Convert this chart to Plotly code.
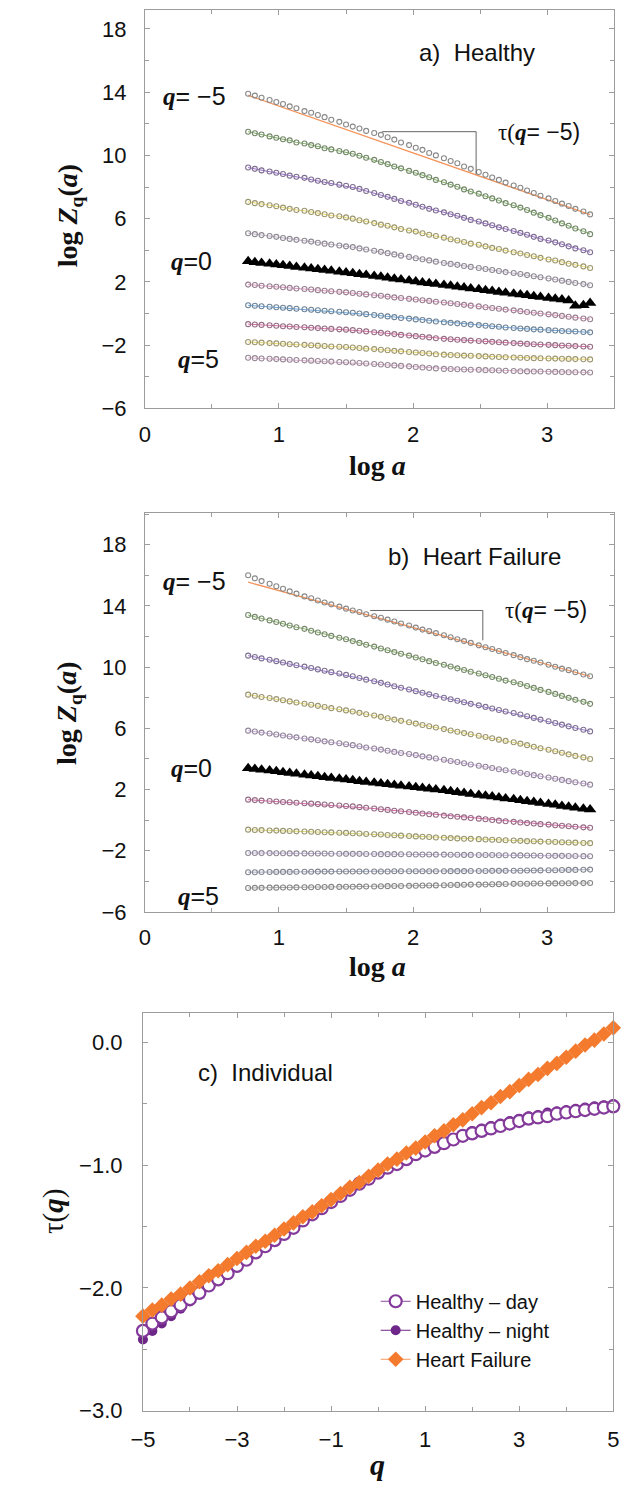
import plotly.graph_objects as go

W, H = 628, 1497
SANS = "Liberation Sans, Arial, sans-serif"
SERIF = "Liberation Serif, Times New Roman, serif"

# ---------------- data: panels a) and b) ----------------
log_a = [0.77, 0.82, 0.87, 0.93, 0.98, 1.03, 1.08, 1.13, 1.19, 1.24, 1.29, 1.34, 1.39, 1.45, 1.50,
         1.55, 1.60, 1.65, 1.71, 1.76, 1.81, 1.86, 1.91, 1.97, 2.02, 2.07, 2.12, 2.17, 2.23, 2.28,
         2.33, 2.38, 2.43, 2.49, 2.54, 2.59, 2.64, 2.69, 2.75, 2.80, 2.85, 2.90, 2.95, 3.01, 3.06,
         3.11, 3.16, 3.21, 3.27, 3.32]
q_rows = [-5, -4, -3, -2, -1, 0, 1, 2, 3, 4, 5]

# a) Healthy
za_m5 = [13.90, 13.78, 13.65, 13.50, 13.38, 13.25, 13.10, 12.98, 12.80, 12.70, 12.55, 12.42, 12.25, 12.12, 11.95,
         11.82, 11.70, 11.55, 11.42, 11.30, 11.15, 11.00, 10.82, 10.65, 10.48, 10.35, 10.15, 10.00, 9.82, 9.65,
         9.50, 9.30, 9.15, 8.95, 8.78, 8.60, 8.45, 8.28, 8.10, 7.95, 7.78, 7.62, 7.45, 7.28, 7.12,
         6.95, 6.80, 6.62, 6.45, 6.27]
za_m4 = [11.50, 11.40, 11.32, 11.20, 11.12, 11.02, 10.95, 10.82, 10.75, 10.65, 10.58, 10.45, 10.38, 10.28, 10.20, 10.10,
         9.98, 9.85, 9.72, 9.58, 9.45, 9.30, 9.18, 9.02, 8.90, 8.75, 8.62, 8.45, 8.30,
         8.15, 8.02, 7.85, 7.72, 7.58, 7.42, 7.28, 7.15, 6.98, 6.85, 6.70,
         6.55, 6.38, 6.22, 6.05, 5.88, 5.70, 5.55, 5.38, 5.20, 5.02]
za_m3 = [9.23, 9.15, 9.05, 8.98, 8.90, 8.82, 8.72, 8.65, 8.58, 8.48, 8.40, 8.32, 8.25, 8.15, 8.08, 8.00,
         7.88, 7.75, 7.62, 7.50, 7.38, 7.25, 7.12, 7.00, 6.88, 6.75, 6.62, 6.52, 6.40,
         6.28, 6.18, 6.05, 5.92, 5.82, 5.70, 5.58, 5.45, 5.35, 5.22, 5.10,
         4.98, 4.85, 4.72, 4.62, 4.50, 4.38, 4.25, 4.12, 4.00, 3.88]
za_m2 = [7.06, 6.98, 6.92, 6.85, 6.78, 6.70, 6.62, 6.55, 6.50, 6.42, 6.35, 6.28, 6.20, 6.15, 6.08, 6.00,
         5.90, 5.82, 5.72, 5.62, 5.55, 5.45, 5.35, 5.25, 5.18, 5.08, 4.98, 4.90, 4.80,
         4.70, 4.62, 4.52, 4.42, 4.35, 4.25, 4.15, 4.08, 3.98, 3.88, 3.80,
         3.70, 3.62, 3.52, 3.42, 3.35, 3.25, 3.15, 3.08, 2.98, 2.88]
za_m1 = [5.08, 5.02, 4.96, 4.90, 4.85, 4.78, 4.72, 4.66, 4.60, 4.55, 4.48, 4.42, 4.37, 4.30, 4.25, 4.20,
         4.12, 4.05, 3.97, 3.90, 3.82, 3.74, 3.66, 3.58, 3.50, 3.43, 3.36, 3.28, 3.20,
         3.14, 3.08, 3.01, 2.95, 2.88, 2.82, 2.75, 2.69, 2.62, 2.56, 2.50,
         2.43, 2.36, 2.29, 2.22, 2.15, 2.08, 2.00, 1.93, 1.86, 1.79]
za_0 = [3.30, 3.25, 3.20, 3.15, 3.10, 3.05, 3.00, 2.95, 2.90, 2.85, 2.80, 2.75, 2.70, 2.65, 2.60, 2.55,
        2.49, 2.43, 2.38, 2.32, 2.26, 2.20, 2.15, 2.09, 2.03, 1.97, 1.92, 1.86, 1.80,
        1.75, 1.69, 1.64, 1.58, 1.53, 1.47, 1.42, 1.36, 1.31, 1.25, 1.20,
        1.15, 1.09, 1.04, 0.98, 0.93, 0.88, 0.82, 0.50, 0.52, 0.66]
za_p1 = [1.83, 1.80, 1.76, 1.73, 1.69, 1.66, 1.62, 1.58, 1.55, 1.52, 1.48, 1.44, 1.41, 1.37, 1.34, 1.30,
         1.25, 1.21, 1.16, 1.12, 1.07, 1.02, 0.98, 0.93, 0.89, 0.84, 0.80, 0.75, 0.70,
         0.65, 0.60, 0.55, 0.50, 0.45, 0.40, 0.35, 0.30, 0.25, 0.20, 0.15,
         0.10, 0.05, 0.00, -0.05, -0.10, -0.15, -0.20, -0.26, -0.31, -0.36]
za_p2 = [0.52, 0.49, 0.46, 0.43, 0.40, 0.37, 0.34, 0.30, 0.27, 0.24, 0.21, 0.18, 0.14, 0.11, 0.08, 0.05,
         0.00, -0.04, -0.09, -0.14, -0.18, -0.23, -0.28, -0.32, -0.37, -0.41, -0.46, -0.50, -0.55,
         -0.59, -0.62, -0.66, -0.70, -0.73, -0.77, -0.80, -0.84, -0.88, -0.91, -0.95,
         -0.97, -1.00, -1.02, -1.05, -1.07, -1.10, -1.12, -1.14, -1.17, -1.19]
za_p3 = [-0.67, -0.69, -0.72, -0.74, -0.77, -0.80, -0.82, -0.85, -0.87, -0.90, -0.92, -0.95, -0.97, -1.00, -1.02, -1.05,
         -1.09, -1.13, -1.18, -1.22, -1.26, -1.30, -1.35, -1.39, -1.43, -1.47, -1.51, -1.56, -1.60,
         -1.63, -1.66, -1.68, -1.71, -1.74, -1.76, -1.79, -1.82, -1.84, -1.87, -1.90,
         -1.92, -1.94, -1.96, -1.98, -2.00, -2.02, -2.04, -2.06, -2.08, -2.10]
za_p4 = [-1.80, -1.82, -1.84, -1.87, -1.89, -1.91, -1.94, -1.96, -1.98, -2.01, -2.03, -2.05, -2.08, -2.10, -2.12, -2.15,
         -2.18, -2.22, -2.25, -2.29, -2.32, -2.36, -2.39, -2.43, -2.46, -2.50, -2.53, -2.57, -2.60,
         -2.62, -2.64, -2.66, -2.67, -2.69, -2.71, -2.73, -2.75, -2.76, -2.78, -2.80,
         -2.81, -2.82, -2.83, -2.84, -2.85, -2.86, -2.87, -2.88, -2.89, -2.90]
za_p5 = [-2.80, -2.82, -2.84, -2.86, -2.88, -2.90, -2.92, -2.94, -2.96, -2.98, -3.00, -3.02, -3.04, -3.06, -3.08, -3.10,
         -3.13, -3.16, -3.19, -3.22, -3.25, -3.28, -3.31, -3.34, -3.38, -3.41, -3.44, -3.47, -3.50,
         -3.51, -3.52, -3.54, -3.55, -3.56, -3.58, -3.59, -3.60, -3.62, -3.63, -3.65,
         -3.66, -3.67, -3.67, -3.68, -3.69, -3.70, -3.71, -3.71, -3.72, -3.73]

# b) Heart Failure
zb_m5 = [16.00, 15.80, 15.62, 15.45, 15.28, 15.12, 14.95, 14.80, 14.62, 14.50, 14.35, 14.22, 14.10, 13.95, 13.82,
         13.70, 13.60, 13.45, 13.32, 13.22, 13.10, 12.98, 12.85, 12.72, 12.58, 12.45, 12.35, 12.22, 12.08, 11.95,
         11.82, 11.70, 11.58, 11.42, 11.30, 11.18, 11.05, 10.92, 10.78, 10.65, 10.52, 10.42, 10.30, 10.15, 10.02,
         9.90, 9.80, 9.66, 9.52, 9.40]
zb_m4 = [13.40, 13.28, 13.18, 13.05, 12.95, 12.83, 12.72, 12.60, 12.50, 12.38, 12.26, 12.15, 12.04, 11.92, 11.82, 11.70,
         11.58, 11.46, 11.34, 11.22, 11.10, 10.98, 10.87, 10.75, 10.63, 10.51, 10.39, 10.27, 10.15,
         10.04, 9.92, 9.81, 9.70, 9.58, 9.47, 9.35, 9.24, 9.12, 9.01, 8.90,
         8.77, 8.64, 8.51, 8.38, 8.25, 8.12, 7.99, 7.86, 7.73, 7.60]
zb_m3 = [10.75, 10.66, 10.57, 10.48, 10.39, 10.30, 10.21, 10.12, 10.03, 9.94, 9.85, 9.76, 9.67, 9.58, 9.49, 9.40,
         9.29, 9.18, 9.08, 8.97, 8.86, 8.75, 8.65, 8.54, 8.43, 8.32, 8.22, 8.11, 8.00,
         7.90, 7.80, 7.70, 7.60, 7.50, 7.40, 7.30, 7.20, 7.10, 7.00, 6.90,
         6.79, 6.68, 6.57, 6.46, 6.35, 6.24, 6.13, 6.02, 5.91, 5.80]
zb_m2 = [8.20, 8.13, 8.05, 7.98, 7.91, 7.83, 7.76, 7.69, 7.61, 7.54, 7.47, 7.39, 7.32, 7.25, 7.17, 7.10,
         7.01, 6.92, 6.84, 6.75, 6.66, 6.57, 6.49, 6.40, 6.31, 6.22, 6.14, 6.05, 5.95,
         5.86, 5.78, 5.69, 5.61, 5.52, 5.43, 5.35, 5.26, 5.18, 5.09, 5.00,
         4.90, 4.80, 4.70, 4.60, 4.50, 4.40, 4.30, 4.20, 4.10, 4.00]
zb_m1 = [5.85, 5.79, 5.72, 5.66, 5.60, 5.53, 5.47, 5.41, 5.34, 5.28, 5.22, 5.15, 5.09, 5.03, 4.96, 4.90,
         4.83, 4.75, 4.68, 4.61, 4.54, 4.46, 4.39, 4.32, 4.25, 4.17, 4.10, 4.03, 3.95,
         3.87, 3.80, 3.72, 3.64, 3.56, 3.49, 3.41, 3.33, 3.26, 3.18, 3.10,
         3.02, 2.94, 2.87, 2.79, 2.71, 2.63, 2.55, 2.48, 2.40, 2.32]
zb_0 = [3.40, 3.35, 3.29, 3.24, 3.19, 3.13, 3.08, 3.03, 2.97, 2.92, 2.87, 2.81, 2.76, 2.71, 2.65, 2.60,
        2.55, 2.50, 2.45, 2.40, 2.35, 2.30, 2.25, 2.20, 2.15, 2.10, 2.05, 2.00, 1.95,
        1.89, 1.83, 1.77, 1.71, 1.65, 1.60, 1.54, 1.48, 1.42, 1.36, 1.30,
        1.24, 1.18, 1.12, 1.06, 1.00, 0.93, 0.87, 0.81, 0.75, 0.69]
zb_p1 = [1.34, 1.31, 1.28, 1.25, 1.22, 1.19, 1.17, 1.14, 1.11, 1.08, 1.05, 1.02, 0.99, 0.96, 0.93, 0.90,
         0.85, 0.81, 0.76, 0.71, 0.67, 0.62, 0.58, 0.53, 0.48, 0.44, 0.39, 0.35, 0.30,
         0.26, 0.22, 0.18, 0.14, 0.10, 0.06, 0.01, -0.03, -0.07, -0.11, -0.15,
         -0.19, -0.22, -0.26, -0.29, -0.33, -0.36, -0.40, -0.43, -0.47, -0.50]
zb_p2 = [-0.62, -0.64, -0.65, -0.67, -0.68, -0.70, -0.71, -0.73, -0.74, -0.76, -0.77, -0.79, -0.80, -0.82, -0.83, -0.85,
         -0.87, -0.90, -0.92, -0.94, -0.97, -0.99, -1.01, -1.03, -1.06, -1.08, -1.10, -1.13, -1.15,
         -1.17, -1.19, -1.21, -1.22, -1.24, -1.26, -1.28, -1.30, -1.31, -1.33, -1.35,
         -1.37, -1.38, -1.40, -1.41, -1.43, -1.44, -1.46, -1.47, -1.49, -1.50]
zb_p3 = [-2.14, -2.14, -2.15, -2.15, -2.16, -2.16, -2.17, -2.17, -2.17, -2.18, -2.18, -2.18, -2.19, -2.19, -2.20, -2.20,
         -2.20, -2.21, -2.21, -2.22, -2.22, -2.22, -2.23, -2.23, -2.24, -2.24, -2.24, -2.25, -2.25,
         -2.26, -2.26, -2.27, -2.27, -2.28, -2.28, -2.28, -2.29, -2.29, -2.30, -2.30,
         -2.31, -2.31, -2.32, -2.32, -2.33, -2.33, -2.34, -2.34, -2.35, -2.36]
zb_p4 = [-3.40, -3.40, -3.39, -3.39, -3.38, -3.38, -3.38, -3.37, -3.37, -3.37, -3.36, -3.36, -3.36, -3.35, -3.35, -3.35,
         -3.35, -3.35, -3.35, -3.35, -3.35, -3.34, -3.34, -3.34, -3.34, -3.34, -3.34, -3.34, -3.34,
         -3.33, -3.33, -3.33, -3.32, -3.32, -3.32, -3.31, -3.31, -3.31, -3.30, -3.30,
         -3.29, -3.29, -3.28, -3.27, -3.27, -3.26, -3.25, -3.25, -3.24, -3.23]
zb_p5 = [-4.43, -4.42, -4.42, -4.41, -4.41, -4.40, -4.40, -4.39, -4.38, -4.38, -4.37, -4.37, -4.36, -4.36, -4.35, -4.35,
         -4.34, -4.33, -4.33, -4.32, -4.31, -4.30, -4.30, -4.29, -4.28, -4.27, -4.27, -4.26, -4.25,
         -4.24, -4.23, -4.22, -4.21, -4.21, -4.20, -4.19, -4.18, -4.17, -4.16, -4.15,
         -4.15, -4.14, -4.14, -4.13, -4.13, -4.12, -4.12, -4.11, -4.11, -4.10]

# fitted slope lines for q = -5
fit_x = [0.77, 3.32]
fit_a_y = [13.80, 6.25]
fit_b_y = [15.55, 9.40]
# slope brackets  (x_left, x_right, y_top, y_bottom)
bracket_a = [1.77, 2.47, 11.5, 8.8]
bracket_b = [1.68, 2.52, 13.7, 11.75]

# ---------------- data: panel c) ----------------
q_vals = [-5.0, -4.8, -4.6, -4.4, -4.2, -4.0, -3.8, -3.6, -3.4, -3.2, -3.0, -2.8, -2.6, -2.4, -2.2, -2.0,
          -1.8, -1.6, -1.4, -1.2, -1.0, -0.8, -0.6, -0.4, -0.2, 0.0, 0.2, 0.4, 0.6, 0.8, 1.0, 1.2, 1.4,
          1.6, 1.8, 2.0, 2.2, 2.4, 2.6, 2.8, 3.0, 3.2, 3.4, 3.6, 3.8, 4.0, 4.2, 4.4, 4.6, 4.8, 5.0]
tau_day = [-2.35, -2.29, -2.24, -2.19, -2.14, -2.09, -2.04, -1.98, -1.93, -1.88, -1.82, -1.77, -1.71, -1.66, -1.61,
           -1.56, -1.51, -1.45, -1.40, -1.35, -1.30, -1.25, -1.20, -1.15, -1.11, -1.06, -1.02, -0.99, -0.95,
           -0.91, -0.88, -0.85, -0.82, -0.79, -0.76, -0.74, -0.72, -0.70, -0.68, -0.66, -0.64, -0.62, -0.61,
           -0.60, -0.58, -0.57, -0.56, -0.55, -0.54, -0.53, -0.52]
tau_night = [-2.42, -2.35, -2.29, -2.23, -2.17, -2.11, -2.05, -1.99, -1.94, -1.88, -1.83, -1.77, -1.72, -1.67, -1.62,
             -1.57, -1.52, -1.46, -1.41, -1.35, -1.30, -1.25, -1.20, -1.15, -1.10, -1.06, -1.02, -0.98, -0.94,
             -0.90, -0.87, -0.84, -0.81, -0.78, -0.75, -0.72, -0.70, -0.68, -0.66, -0.64, -0.62, -0.60, -0.59,
             -0.57, -0.56, -0.55, -0.54, -0.53, -0.52, -0.51, -0.50]
tau_hf = [-2.23, -2.18, -2.14, -2.09, -2.05, -2.00, -1.95, -1.90, -1.86, -1.81, -1.76, -1.71, -1.66, -1.62, -1.57,
          -1.52, -1.47, -1.42, -1.38, -1.33, -1.28, -1.23, -1.18, -1.14, -1.09, -1.04, -0.99, -0.95, -0.90,
          -0.86, -0.81, -0.76, -0.72, -0.67, -0.63, -0.58, -0.53, -0.49, -0.44, -0.40, -0.35, -0.30, -0.26,
          -0.21, -0.17, -0.12, -0.07, -0.02, 0.02, 0.07, 0.12]

# ---------------- styles ----------------
rows_a = [za_m5, za_m4, za_m3, za_m2, za_m1, za_0, za_p1, za_p2, za_p3, za_p4, za_p5]
rows_b = [zb_m5, zb_m4, zb_m3, zb_m2, zb_m1, zb_0, zb_p1, zb_p2, zb_p3, zb_p4, zb_p5]
colors_a = ["#f39a66", "#6fa552", "#8a5cc4", "#e4d35c", "#b7a9c4", "#000000",
            "#d98cbc", "#5c9bd6", "#d35c9c", "#e6d25e", "#d9a6cc"]
colors_b = ["#f39a66", "#78a85a", "#8c68c8", "#e0d062", "#c4a2da", "#000000",
            "#d0559c", "#d8cf5e", "#b9a8d2", "#98a0bc", "#a2a2a2"]


def blend(c, g=(120, 120, 120), t=0.35):
    r, gg, b = int(c[1:3], 16), int(c[3:5], 16), int(c[5:7], 16)
    return "rgb(%d,%d,%d)" % (r * t + g[0] * (1 - t), gg * t + g[1] * (1 - t), b * t + g[2] * (1 - t))


fig = go.Figure()


def add_panel(rows, colors, fit_y, xa, ya):
    fig.add_trace(go.Scatter(x=fit_x, y=fit_y, mode="lines", line=dict(color="#f4935a", width=1.3),
                             xaxis=xa, yaxis=ya, showlegend=False, hoverinfo="skip"))
    for q, ys, c in zip(q_rows, rows, colors):
        if q == 0:
            fig.add_trace(go.Scatter(x=log_a, y=ys, mode="markers",
                                     marker=dict(symbol="triangle-up", size=11, color="black"),
                                     xaxis=xa, yaxis=ya, showlegend=False))
        else:
            mode = "markers" if q == -5 else "lines+markers"
            mc = blend("#aaaaaa") if q == -5 else blend(c)
            fig.add_trace(go.Scatter(x=log_a, y=ys, mode=mode,
                                     line=dict(color=c, width=0.9),
                                     marker=dict(symbol="circle-open", size=5, color=mc,
                                                 line=dict(width=1.1)),
                                     xaxis=xa, yaxis=ya, showlegend=False))


add_panel(rows_a, colors_a, fit_a_y, "x", "y")
add_panel(rows_b, colors_b, fit_b_y, "x2", "y2")

PURPLE = "#6e2688"
ORANGE = "#f47a2e"
fig.add_trace(go.Scatter(x=q_vals, y=tau_night, mode="lines+markers", name="Healthy \u2013 night",
                         line=dict(color=PURPLE, width=1), marker=dict(symbol="circle", size=10, color=PURPLE),
                         xaxis="x3", yaxis="y3", legendrank=2, cliponaxis=False))
fig.add_trace(go.Scatter(x=q_vals, y=tau_day, mode="lines+markers", name="Healthy \u2013 day",
                         line=dict(color="#8a4aa0", width=1),
                         marker=dict(symbol="circle", size=12, color="white", line=dict(color="#843a9a", width=2.2)),
                         xaxis="x3", yaxis="y3", legendrank=1, cliponaxis=False))
fig.add_trace(go.Scatter(x=q_vals, y=tau_hf, mode="lines+markers", name="Heart Failure",
                         line=dict(color="#f79a5e", width=1), marker=dict(symbol="diamond", size=12, color=ORANGE),
                         xaxis="x3", yaxis="y3", legendrank=3, cliponaxis=False))

# ---------------- layout ----------------
def px_x(p):
    return p / W


def px_y(p):
    return 1 - p / H


AXC = "#9c9c9c"


def axis(rng, dom, tick0, dtick, mdtick, fmt=None, anchor=None, standoff=8):
    d = dict(range=rng, domain=dom, showline=True, linecolor=AXC, linewidth=1, mirror="ticks",
             ticks="inside", ticklen=5, tickcolor=AXC, tickwidth=1, showgrid=False, zeroline=False,
             tick0=tick0, dtick=dtick, tickfont=dict(family=SANS, size=22, color="#111"),
             ticklabelstandoff=standoff,
             minor=dict(ticks="inside", ticklen=4, tickcolor=AXC, dtick=mdtick, tick0=tick0, showgrid=False),
             fixedrange=True, anchor=anchor)
    if fmt:
        d["tickformat"] = fmt
    return d


xdom_ab = [px_x(136), px_x(620)]
fig.update_layout(
    width=W, height=H, margin=dict(l=0, r=0, t=0, b=0),
    paper_bgcolor="white", plot_bgcolor="white",
    xaxis=axis([0, 3.5], xdom_ab, 0, 1, 0.5, anchor="y", standoff=6),
    yaxis=axis([-6, 19.2], [px_y(412), px_y(10)], -6, 4, 2, anchor="x", standoff=13),
    xaxis2=axis([0, 3.5], xdom_ab, 0, 1, 0.5, anchor="y2", standoff=6),
    yaxis2=axis([-6, 20.1], [px_y(920), px_y(517)], -6, 4, 2, anchor="x2", standoff=13),
    xaxis3=axis([-5, 5], [px_x(134), px_x(619)], -5, 2, 1, anchor="y3", standoff=9),
    yaxis3=axis([-3, 0.24], [px_y(1423), px_y(1022)], -3, 1, 0.5, fmt=".1f", anchor="x3", standoff=15),
    legend=dict(x=px_x(374), y=px_y(1293), xanchor="left", yanchor="top", bgcolor="rgba(0,0,0,0)",
                font=dict(family=SANS, size=20, color="#111"), tracegroupgap=0),
    showlegend=True,
)

for b, xr, yr in [(bracket_a, "x", "y"), (bracket_b, "x2", "y2")]:
    fig.add_shape(type="line", xref=xr, yref=yr, x0=b[0], x1=b[1], y0=b[2], y1=b[2],
                  line=dict(color="#666", width=1))
    fig.add_shape(type="line", xref=xr, yref=yr, x0=b[1], x1=b[1], y0=b[2], y1=b[3],
                  line=dict(color="#666", width=1))

QB = "<span style=\"font-family:'Liberation Serif'\"><b><i>q</i></b></span>"
TAU = "<span style=\"font-family:'Liberation Serif'\">\u03c4(</span>" + QB + "= \u22125)"


def ann(text, x, y, xref, yref, size, family=SANS, angle=0):
    fig.add_annotation(text=text, x=x, y=y, xref=xref, yref=yref, showarrow=False,
                       font=dict(family=family, size=size, color="#111"), textangle=angle,
                       xanchor="center", yanchor="middle")


# panel a
ann("a)  Healthy", 2.48, 16.5, "x", "y", 24)
ann(QB + "= \u22125", 0.37, 13.75, "x", "y", 25)
ann(QB + "=0", 0.35, 3.3, "x", "y", 25)
ann(QB + "=5", 0.40, -2.9, "x", "y", 25)
ann(TAU, 2.94, 11.5, "x", "y", 23)
# panel b
ann("b)  Heart Failure", 2.46, 17.2, "x2", "y2", 24)
ann(QB + "= \u22125", 0.37, 15.6, "x2", "y2", 25)
ann(QB + "=0", 0.35, 3.4, "x2", "y2", 25)
ann(QB + "=5", 0.40, -4.95, "x2", "y2", 25)
ann(TAU, 2.99, 13.7, "x2", "y2", 23)
# panel c
ann("c)  Individual", -2.4, -0.245, "x3", "y3", 24)

# axis titles
YT = "<b>log <i>Z</i><sub>q</sub>(<i>a</i>)</b>"
XT = "<b>log <i>a</i></b>"
ann(YT, px_x(58), px_y(218), "paper", "paper", 28, SERIF, -90)
ann(XT, px_x(376), px_y(470), "paper", "paper", 28, SERIF)
ann(YT, px_x(58), px_y(720), "paper", "paper", 28, SERIF, -90)
ann(XT, px_x(376), px_y(975), "paper", "paper", 28, SERIF)
ann("\u03c4(<b><i>q</i></b>)", px_x(42), px_y(1222), "paper", "paper", 29, SERIF, -90)
ann("<b><i>q</i></b>", px_x(376), px_y(1477), "paper", "paper", 30, SERIF)

fig.write_html("out.html", include_plotlyjs=True, config={"displayModeBar": False})
